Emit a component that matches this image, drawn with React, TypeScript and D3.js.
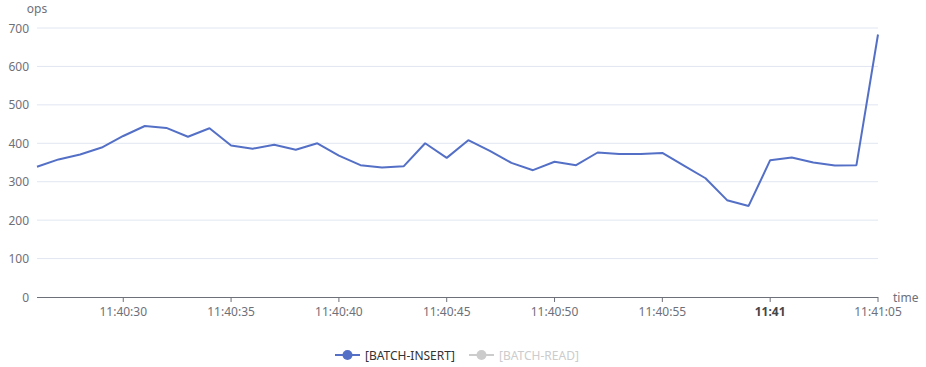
import React from "react";
import * as d3 from "d3";

const times: string[] = [
  "11:40:26","11:40:27","11:40:28","11:40:29","11:40:30","11:40:31","11:40:32","11:40:33","11:40:34","11:40:35",
  "11:40:36","11:40:37","11:40:38","11:40:39","11:40:40","11:40:41","11:40:42","11:40:43","11:40:44","11:40:45",
  "11:40:46","11:40:47","11:40:48","11:40:49","11:40:50","11:40:51","11:40:52","11:40:53","11:40:54","11:40:55",
  "11:40:56","11:40:57","11:40:58","11:40:59","11:41:00","11:41:01","11:41:02","11:41:03","11:41:04","11:41:05",
];
const batchInsert: number[] = [
  339, 358, 371, 389, 419, 445, 440, 417, 439, 394,
  386, 396, 383, 400, 368, 343, 337, 340, 400, 362,
  408, 380, 349, 330, 352, 343, 376, 372, 372, 375,
  342, 309, 252, 237, 356, 363, 350, 342, 343, 683,
];
const yTicks: number[] = [0, 100, 200, 300, 400, 500, 600, 700];
const seriesNames: string[] = ["[BATCH-INSERT]", "[BATCH-READ]"];

const W = 926, H = 367;
const M = { left: 37, right: 48, top: 28, bottom: 70 };
const FONT = "'Noto Sans', sans-serif";
const parse = d3.timeParse("%H:%M:%S");

export default function App() {
  const dates = times.map((t) => parse(t) as Date);
  const x = d3.scaleTime().domain([dates[0], dates[dates.length - 1]]).range([M.left, W - M.right]);
  const y = d3.scaleLinear().domain([0, 700]).range([H - M.bottom, M.top]);
  const xTicks = x.ticks(d3.timeSecond.every(5) as any);
  const line = d3.line<number>().x((_, i) => x(dates[i])).y((d) => y(d));
  const fmt = (d: Date) => (d.getSeconds() === 0 ? d3.timeFormat("%H:%M")(d) : d3.timeFormat("%H:%M:%S")(d));
  const y0 = y(0);
  const legendY = 355;
  return (
    <svg width={W} height={H} style={{ position: "absolute", left: 0, top: 0, fontFamily: FONT }}>
      <rect width={W} height={H} fill="#fff" />
      {yTicks.map((t) => (
        <g key={t}>
          {t > 0 && <line x1={M.left} x2={W - M.right} y1={y(t)} y2={y(t)} stroke="#e0e6f1" />}
          <text x={M.left - 8} y={y(t)} textAnchor="end" dominantBaseline="central" fontSize={12} fill="#6e7079">{t}</text>
        </g>
      ))}
      <line x1={M.left} x2={W - M.right} y1={y0 + 0.5} y2={y0 + 0.5} stroke="#6e7079" />
      {xTicks.map((t, i) => (
        <g key={i}>
          <line x1={x(t)} x2={x(t)} y1={y0} y2={y0 + 5} stroke="#6e7079" />
          <text x={x(t)} y={y0 + 14} textAnchor="middle" dominantBaseline="central" fontSize={12}
            fill={t.getSeconds() === 0 ? "#464646" : "#6e7079"} fontWeight={t.getSeconds() === 0 ? "bold" : "normal"}>{fmt(t)}</text>
        </g>
      ))}
      <text x={M.left} y={M.top - 15} textAnchor="middle" fontSize={12} fill="#6e7079">ops</text>
      <text x={W - M.right + 15} y={y0} dominantBaseline="central" fontSize={12} fill="#6e7079">time</text>
      <path d={line(batchInsert) || ""} fill="none" stroke="#5470c6" strokeWidth={2} strokeLinejoin="bevel" />
      <g>
        <line x1={335} x2={360} y1={legendY} y2={legendY} stroke="#5470c6" strokeWidth={2} />
        <circle cx={347.5} cy={legendY} r={5} fill="#5470c6" />
        <text x={365} y={legendY} dominantBaseline="central" fontSize={12} fill="#333">{seriesNames[0]}</text>
        <line x1={469} x2={494} y1={legendY} y2={legendY} stroke="#ccc" strokeWidth={2} />
        <circle cx={481.5} cy={legendY} r={5} fill="#ccc" />
        <text x={499} y={legendY} dominantBaseline="central" fontSize={12} fill="#ccc">{seriesNames[1]}</text>
      </g>
    </svg>
  );
}
